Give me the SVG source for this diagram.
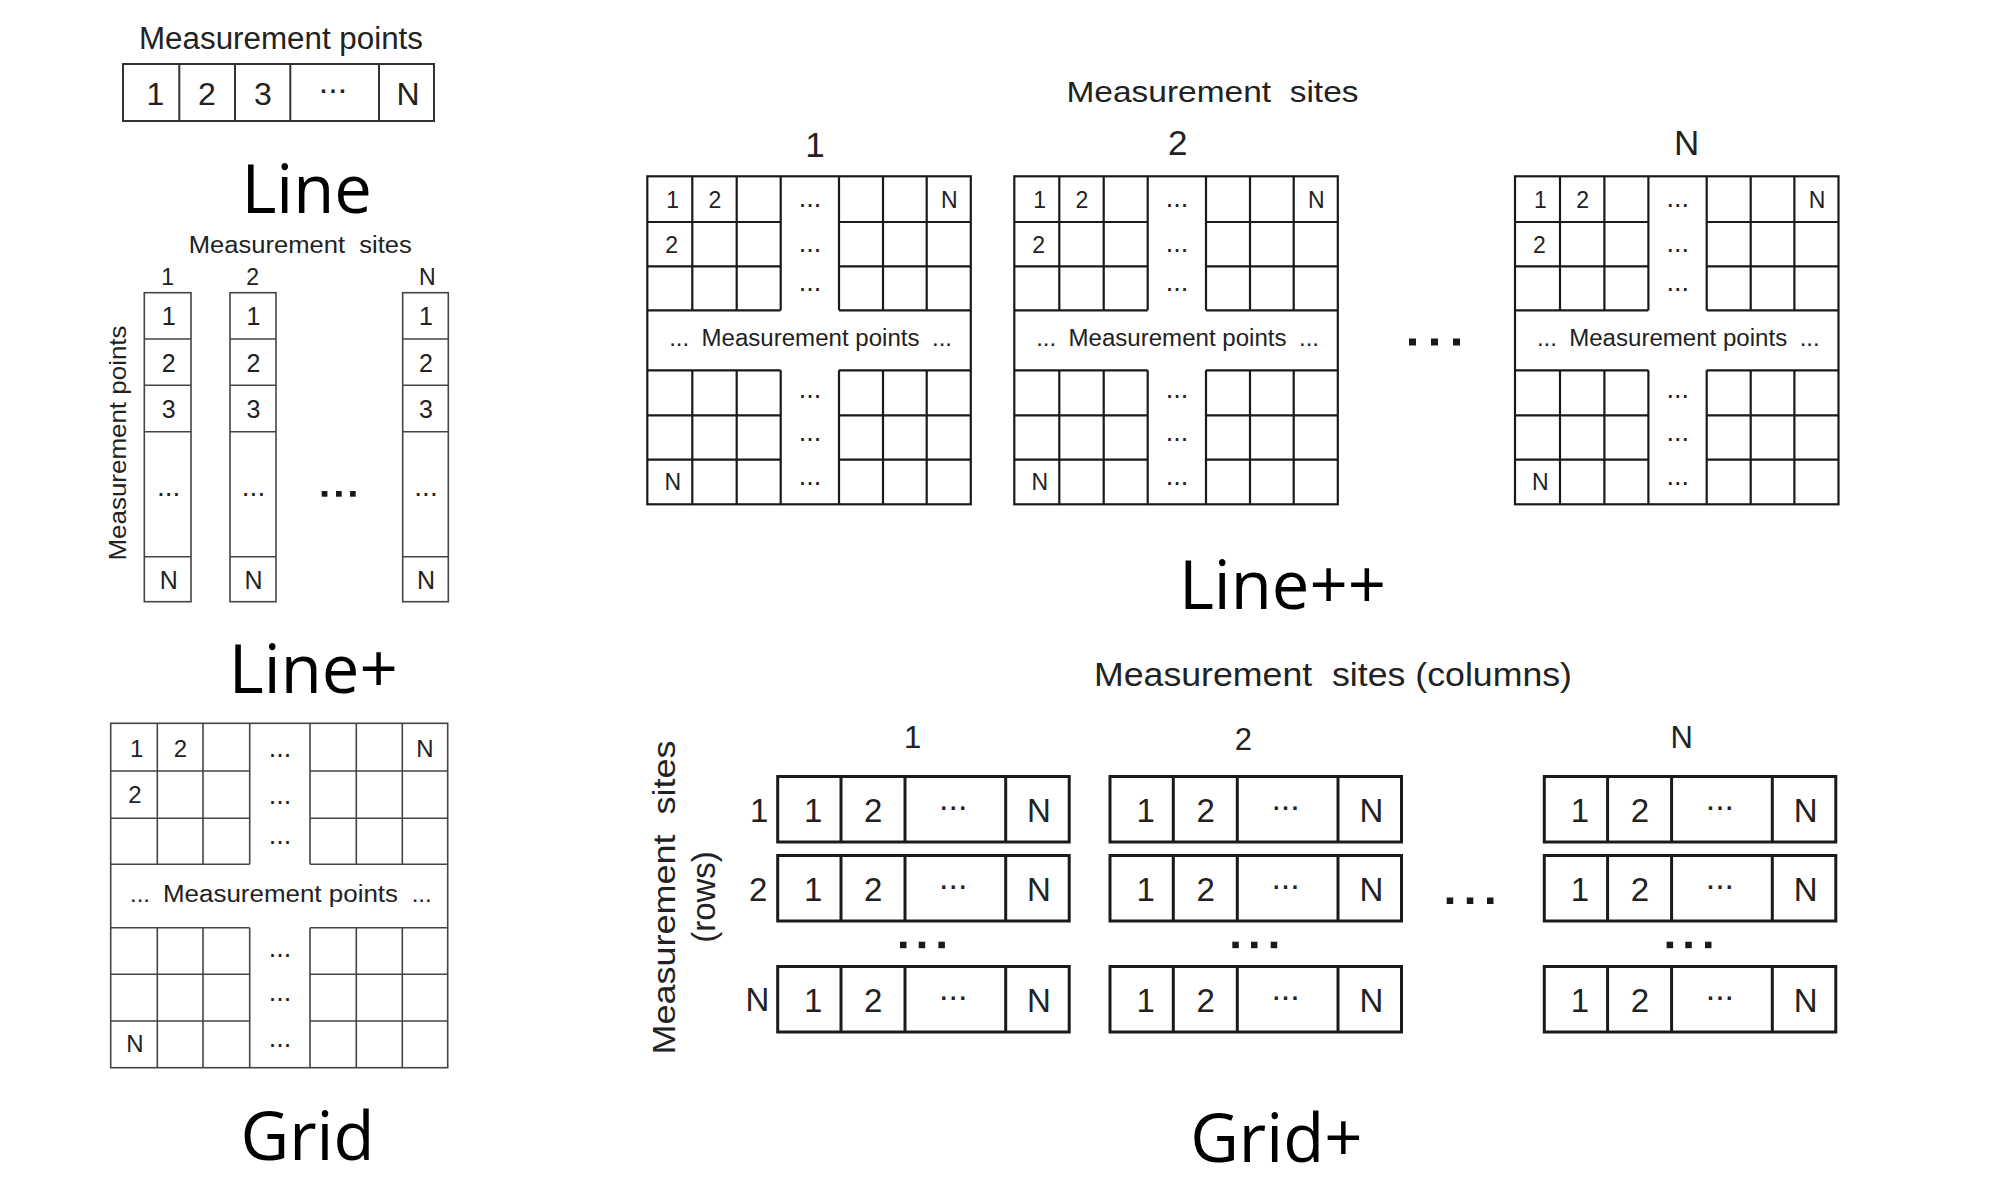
<svg xmlns="http://www.w3.org/2000/svg" width="2000" height="1194" viewBox="0 0 2000 1194">
<style>
.t{font-family:"Liberation Sans",Arial,sans-serif;fill:#222;text-anchor:middle}
.big{font-family:"Open Sans","Noto Sans",sans-serif;font-size:67px;fill:#000;text-anchor:middle}
.b1{fill:none;stroke:#333;stroke-width:2}
.b2{fill:none;stroke:#444;stroke-width:1.6}
.b3{fill:none;stroke:#1a1a1a;stroke-width:2.2}
.b4{fill:none;stroke:#1a1a1a;stroke-width:3}
.dot{fill:#1a1a1a}
</style>
<rect width="2000" height="1194" fill="#fff"/>

<g id="line">
<text class="t" x="281" y="49" font-size="31" textLength="284" lengthAdjust="spacingAndGlyphs">Measurement points</text>
<rect class="b1" x="123" y="64" width="311" height="57"/>
<path class="b1" d="M179.3 64V121M235 64V121M290.3 64V121M379 64V121"/>
<g font-size="32" class="t">
<text class="t" x="155.5" y="105">1</text>
<text class="t" x="207" y="105">2</text>
<text class="t" x="263" y="105">3</text>
<text class="t" x="333" y="93" font-size="34">...</text>
<text class="t" x="408" y="105">N</text>
</g>
<text class="big" x="306.7" y="213">Line</text>
</g>

<g id="line-plus">
<text class="t" x="300.3" y="252.7" font-size="23" xml:space="preserve" textLength="223" lengthAdjust="spacingAndGlyphs">Measurement  sites</text>
<text class="t" x="167.7" y="284.5" font-size="23">1</text>
<text class="t" x="252.7" y="284.5" font-size="23">2</text>
<text class="t" x="427.3" y="284.5" font-size="23">N</text>
<text class="t" transform="translate(126,443) rotate(-90)" font-size="24" textLength="235" lengthAdjust="spacingAndGlyphs">Measurement points</text>
<g id="lp-col-1">
<rect class="b2" x="144.3" y="292.7" width="46.7" height="309"/>
<path class="b2" d="M144.3 339H191M144.3 385.3H191M144.3 431.7H191M144.3 556.7H191"/>
<text class="t" x="168.7" y="325" font-size="25">1</text>
<text class="t" x="168.7" y="371.5" font-size="25">2</text>
<text class="t" x="168.7" y="418" font-size="25">3</text>
<text class="t" x="168.7" y="495.5" font-size="28">...</text>
<text class="t" x="168.7" y="588.5" font-size="25">N</text>
</g>
<g id="lp-col-2">
<rect class="b2" x="230" y="292.7" width="46" height="309"/>
<path class="b2" d="M230 339H276M230 385.3H276M230 431.7H276M230 556.7H276"/>
<text class="t" x="253.5" y="325" font-size="25">1</text>
<text class="t" x="253.5" y="371.5" font-size="25">2</text>
<text class="t" x="253.5" y="418" font-size="25">3</text>
<text class="t" x="253.5" y="495.5" font-size="28">...</text>
<text class="t" x="253.5" y="588.5" font-size="25">N</text>
</g>
<g id="lp-col-n">
<rect class="b2" x="402.7" y="292.7" width="45.6" height="309"/>
<path class="b2" d="M402.7 339H448.3M402.7 385.3H448.3M402.7 431.7H448.3M402.7 556.7H448.3"/>
<text class="t" x="426" y="325" font-size="25">1</text>
<text class="t" x="426" y="371.5" font-size="25">2</text>
<text class="t" x="426" y="418" font-size="25">3</text>
<text class="t" x="426" y="495.5" font-size="28">...</text>
<text class="t" x="426" y="588.5" font-size="25">N</text>
</g>
<rect class="dot" x="321.7" y="491" width="5.7" height="5.7"/>
<rect class="dot" x="336" y="491" width="5.7" height="5.7"/>
<rect class="dot" x="350" y="491" width="5.7" height="5.7"/>
<text class="big" x="313.3" y="693.3">Line+</text>
</g>

<g id="grid">
<rect class="b2" x="110.7" y="723.3" width="337" height="344.4"/>
<path class="b2" d="M110.7 771H249.7M310 771H447.7M110.7 818.3H249.7M310 818.3H447.7M110.7 864.3H249.7M310 864.3H447.7M110.7 927.7H249.7M310 927.7H447.7M110.7 974.3H249.7M310 974.3H447.7M110.7 1021H249.7M310 1021H447.7M157.3 723.3V864.3M203 723.3V864.3M249.7 723.3V864.3M310 723.3V864.3M356.3 723.3V864.3M402.3 723.3V864.3M157.3 927.7V1067.7M203 927.7V1067.7M249.7 927.7V1067.7M310 927.7V1067.7M356.3 927.7V1067.7M402.3 927.7V1067.7"/>
<text class="t" x="136.7" y="756.7" font-size="24">1</text>
<text class="t" x="180.5" y="756.7" font-size="24">2</text>
<text class="t" x="425" y="756.7" font-size="24">N</text>
<text class="t" x="135" y="803.3" font-size="24">2</text>
<text class="t" x="135" y="1052.3" font-size="24">N</text>
<text class="t" x="280" y="756.5" font-size="27">...</text>
<text class="t" x="280" y="804" font-size="27">...</text>
<text class="t" x="280" y="844" font-size="27">...</text>
<text class="t" x="280" y="956.5" font-size="27">...</text>
<text class="t" x="280" y="1001" font-size="27">...</text>
<text class="t" x="280" y="1047" font-size="27">...</text>
<text class="t" x="140" y="901.7" font-size="24">...</text>
<text class="t" x="280.5" y="901.7" font-size="23" textLength="235" lengthAdjust="spacingAndGlyphs">Measurement points</text>
<text class="t" x="421.7" y="901.7" font-size="24">...</text>
<text class="big" x="307.5" y="1159.6">Grid</text>
</g>

<g id="line-plus-plus">
<text class="t" x="1212.5" y="102.3" font-size="30" xml:space="preserve" textLength="292" lengthAdjust="spacingAndGlyphs">Measurement  sites</text>
<text class="t" x="815" y="156.7" font-size="35">1</text>
<text class="t" x="1177.7" y="155" font-size="35">2</text>
<text class="t" x="1686.7" y="155" font-size="35">N</text>

<g id="lpp-site-1" transform="translate(647.3,176.3)">
<rect class="b3" x="0" y="0" width="323.5" height="328"/>
<path class="b3" d="M0 45.7H133.4M191.7 45.7H323.5M0 90H133.4M191.7 90H323.5M0 134H133.4M191.7 134H323.5M0 194H133.4M191.7 194H323.5M0 239H133.4M191.7 239H323.5M0 283.3H133.4M191.7 283.3H323.5M45 0V134M89.4 0V134M133.4 0V134M191.7 0V134M235.7 0V134M279.4 0V134M45 194V328M89.4 194V328M133.4 194V328M191.7 194V328M235.7 194V328M279.4 194V328"/>
<text class="t" x="25.4" y="31.3" font-size="23">1</text>
<text class="t" x="67.7" y="31.3" font-size="23">2</text>
<text class="t" x="302" y="31.3" font-size="23">N</text>
<text class="t" x="24.4" y="76.7" font-size="23">2</text>
<text class="t" x="25.4" y="314" font-size="23">N</text>
<text class="t" x="162.7" y="31" font-size="27">...</text>
<text class="t" x="162.7" y="76" font-size="27">...</text>
<text class="t" x="162.7" y="114.5" font-size="27">...</text>
<text class="t" x="162.7" y="222" font-size="27">...</text>
<text class="t" x="162.7" y="264.5" font-size="27">...</text>
<text class="t" x="162.7" y="308.5" font-size="27">...</text>
<text class="t" x="31.9" y="170" font-size="24">...</text>
<text class="t" x="163.2" y="170" font-size="23" textLength="218" lengthAdjust="spacingAndGlyphs">Measurement points</text>
<text class="t" x="294.7" y="170" font-size="24">...</text>
</g>

<g id="lpp-site-2" transform="translate(1014.3,176.3)">
<rect class="b3" x="0" y="0" width="323.5" height="328"/>
<path class="b3" d="M0 45.7H133.4M191.7 45.7H323.5M0 90H133.4M191.7 90H323.5M0 134H133.4M191.7 134H323.5M0 194H133.4M191.7 194H323.5M0 239H133.4M191.7 239H323.5M0 283.3H133.4M191.7 283.3H323.5M45 0V134M89.4 0V134M133.4 0V134M191.7 0V134M235.7 0V134M279.4 0V134M45 194V328M89.4 194V328M133.4 194V328M191.7 194V328M235.7 194V328M279.4 194V328"/>
<text class="t" x="25.4" y="31.3" font-size="23">1</text>
<text class="t" x="67.7" y="31.3" font-size="23">2</text>
<text class="t" x="302" y="31.3" font-size="23">N</text>
<text class="t" x="24.4" y="76.7" font-size="23">2</text>
<text class="t" x="25.4" y="314" font-size="23">N</text>
<text class="t" x="162.7" y="31" font-size="27">...</text>
<text class="t" x="162.7" y="76" font-size="27">...</text>
<text class="t" x="162.7" y="114.5" font-size="27">...</text>
<text class="t" x="162.7" y="222" font-size="27">...</text>
<text class="t" x="162.7" y="264.5" font-size="27">...</text>
<text class="t" x="162.7" y="308.5" font-size="27">...</text>
<text class="t" x="31.9" y="170" font-size="24">...</text>
<text class="t" x="163.2" y="170" font-size="23" textLength="218" lengthAdjust="spacingAndGlyphs">Measurement points</text>
<text class="t" x="294.7" y="170" font-size="24">...</text>
</g>

<g id="lpp-site-n" transform="translate(1515,176.3)">
<rect class="b3" x="0" y="0" width="323.5" height="328"/>
<path class="b3" d="M0 45.7H133.4M191.7 45.7H323.5M0 90H133.4M191.7 90H323.5M0 134H133.4M191.7 134H323.5M0 194H133.4M191.7 194H323.5M0 239H133.4M191.7 239H323.5M0 283.3H133.4M191.7 283.3H323.5M45 0V134M89.4 0V134M133.4 0V134M191.7 0V134M235.7 0V134M279.4 0V134M45 194V328M89.4 194V328M133.4 194V328M191.7 194V328M235.7 194V328M279.4 194V328"/>
<text class="t" x="25.4" y="31.3" font-size="23">1</text>
<text class="t" x="67.7" y="31.3" font-size="23">2</text>
<text class="t" x="302" y="31.3" font-size="23">N</text>
<text class="t" x="24.4" y="76.7" font-size="23">2</text>
<text class="t" x="25.4" y="314" font-size="23">N</text>
<text class="t" x="162.7" y="31" font-size="27">...</text>
<text class="t" x="162.7" y="76" font-size="27">...</text>
<text class="t" x="162.7" y="114.5" font-size="27">...</text>
<text class="t" x="162.7" y="222" font-size="27">...</text>
<text class="t" x="162.7" y="264.5" font-size="27">...</text>
<text class="t" x="162.7" y="308.5" font-size="27">...</text>
<text class="t" x="31.9" y="170" font-size="24">...</text>
<text class="t" x="163.2" y="170" font-size="23" textLength="218" lengthAdjust="spacingAndGlyphs">Measurement points</text>
<text class="t" x="294.7" y="170" font-size="24">...</text>
</g>

<rect class="dot" x="1409" y="338.5" width="7" height="7"/>
<rect class="dot" x="1431" y="338.5" width="7" height="7"/>
<rect class="dot" x="1453" y="338.5" width="7" height="7"/>
<text class="big" x="1282.5" y="608.9">Line++</text>
</g>

<g id="grid-plus">
<text class="t" x="1333" y="685.6" font-size="33" xml:space="preserve" textLength="478" lengthAdjust="spacingAndGlyphs">Measurement  sites (columns)</text>
<text class="t" transform="translate(675,897.5) rotate(-90)" font-size="32" xml:space="preserve" textLength="314" lengthAdjust="spacingAndGlyphs">Measurement  sites</text>
<text class="t" transform="translate(715,897) rotate(-90)" font-size="33">(rows)</text>
<text class="t" x="912.7" y="748" font-size="31">1</text>
<text class="t" x="1243.3" y="749.5" font-size="31">2</text>
<text class="t" x="1681.7" y="747.5" font-size="31">N</text>
<text class="t" x="759.3" y="821.7" font-size="33">1</text>
<text class="t" x="758.3" y="900.5" font-size="33">2</text>
<text class="t" x="757.3" y="1011" font-size="33">N</text>

<g id="gp-col-1" transform="translate(777.7,776.5)">
<g><rect class="b4" x="0" y="0" width="291.5" height="65.5"/><path class="b4" d="M63.3 0V65.5M127.3 0V65.5M228 0V65.5"/>
<text class="t" x="35.6" y="45.5" font-size="33">1</text><text class="t" x="95.6" y="45.5" font-size="33">2</text><text class="t" x="175.6" y="33.5" font-size="34">...</text><text class="t" x="261.3" y="45.5" font-size="33">N</text></g>
<g transform="translate(0,79)"><rect class="b4" x="0" y="0" width="291.5" height="65.5"/><path class="b4" d="M63.3 0V65.5M127.3 0V65.5M228 0V65.5"/>
<text class="t" x="35.6" y="45.5" font-size="33">1</text><text class="t" x="95.6" y="45.5" font-size="33">2</text><text class="t" x="175.6" y="33.5" font-size="34">...</text><text class="t" x="261.3" y="45.5" font-size="33">N</text></g>
<g transform="translate(0,190)"><rect class="b4" x="0" y="0" width="291.5" height="65.5"/><path class="b4" d="M63.3 0V65.5M127.3 0V65.5M228 0V65.5"/>
<text class="t" x="35.6" y="45.5" font-size="33">1</text><text class="t" x="95.6" y="45.5" font-size="33">2</text><text class="t" x="175.6" y="33.5" font-size="34">...</text><text class="t" x="261.3" y="45.5" font-size="33">N</text></g>
<rect class="dot" x="122.3" y="165.2" width="6.5" height="6.5"/><rect class="dot" x="141" y="165.2" width="6.5" height="6.5"/><rect class="dot" x="160.7" y="165.2" width="6.5" height="6.5"/>
</g>

<g id="gp-col-2" transform="translate(1110,776.5)">
<g><rect class="b4" x="0" y="0" width="291.5" height="65.5"/><path class="b4" d="M63.3 0V65.5M127.3 0V65.5M228 0V65.5"/>
<text class="t" x="35.6" y="45.5" font-size="33">1</text><text class="t" x="95.6" y="45.5" font-size="33">2</text><text class="t" x="175.6" y="33.5" font-size="34">...</text><text class="t" x="261.3" y="45.5" font-size="33">N</text></g>
<g transform="translate(0,79)"><rect class="b4" x="0" y="0" width="291.5" height="65.5"/><path class="b4" d="M63.3 0V65.5M127.3 0V65.5M228 0V65.5"/>
<text class="t" x="35.6" y="45.5" font-size="33">1</text><text class="t" x="95.6" y="45.5" font-size="33">2</text><text class="t" x="175.6" y="33.5" font-size="34">...</text><text class="t" x="261.3" y="45.5" font-size="33">N</text></g>
<g transform="translate(0,190)"><rect class="b4" x="0" y="0" width="291.5" height="65.5"/><path class="b4" d="M63.3 0V65.5M127.3 0V65.5M228 0V65.5"/>
<text class="t" x="35.6" y="45.5" font-size="33">1</text><text class="t" x="95.6" y="45.5" font-size="33">2</text><text class="t" x="175.6" y="33.5" font-size="34">...</text><text class="t" x="261.3" y="45.5" font-size="33">N</text></g>
<rect class="dot" x="122.3" y="165.2" width="6.5" height="6.5"/><rect class="dot" x="141" y="165.2" width="6.5" height="6.5"/><rect class="dot" x="160.7" y="165.2" width="6.5" height="6.5"/>
</g>

<g id="gp-col-n" transform="translate(1544.3,776.5)">
<g><rect class="b4" x="0" y="0" width="291.5" height="65.5"/><path class="b4" d="M63.3 0V65.5M127.3 0V65.5M228 0V65.5"/>
<text class="t" x="35.6" y="45.5" font-size="33">1</text><text class="t" x="95.6" y="45.5" font-size="33">2</text><text class="t" x="175.6" y="33.5" font-size="34">...</text><text class="t" x="261.3" y="45.5" font-size="33">N</text></g>
<g transform="translate(0,79)"><rect class="b4" x="0" y="0" width="291.5" height="65.5"/><path class="b4" d="M63.3 0V65.5M127.3 0V65.5M228 0V65.5"/>
<text class="t" x="35.6" y="45.5" font-size="33">1</text><text class="t" x="95.6" y="45.5" font-size="33">2</text><text class="t" x="175.6" y="33.5" font-size="34">...</text><text class="t" x="261.3" y="45.5" font-size="33">N</text></g>
<g transform="translate(0,190)"><rect class="b4" x="0" y="0" width="291.5" height="65.5"/><path class="b4" d="M63.3 0V65.5M127.3 0V65.5M228 0V65.5"/>
<text class="t" x="35.6" y="45.5" font-size="33">1</text><text class="t" x="95.6" y="45.5" font-size="33">2</text><text class="t" x="175.6" y="33.5" font-size="34">...</text><text class="t" x="261.3" y="45.5" font-size="33">N</text></g>
<rect class="dot" x="122.3" y="165.2" width="6.5" height="6.5"/><rect class="dot" x="141" y="165.2" width="6.5" height="6.5"/><rect class="dot" x="160.7" y="165.2" width="6.5" height="6.5"/>
</g>

<rect class="dot" x="1446.7" y="897.5" width="6.5" height="6.5"/>
<rect class="dot" x="1466.8" y="897.5" width="6.5" height="6.5"/>
<rect class="dot" x="1487" y="897.5" width="6.5" height="6.5"/>
<text class="big" x="1276.3" y="1161.5">Grid+</text>
</g>
</svg>
